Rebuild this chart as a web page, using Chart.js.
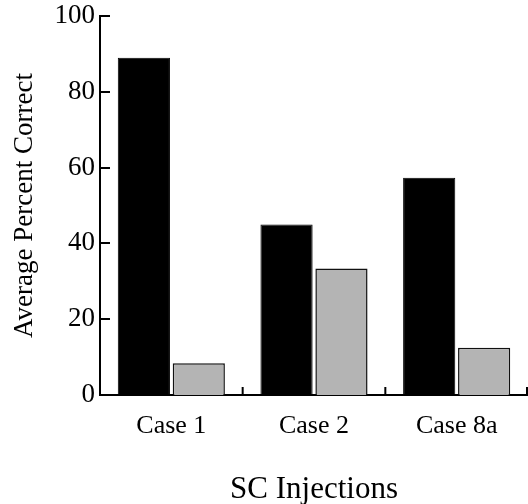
<!DOCTYPE html>
<html>
<head>
<meta charset="utf-8">
<script src="https://cdn.jsdelivr.net/npm/chart.js@4"></script>
<style>
  html, body { margin: 0; padding: 0; background: #fff; overflow: hidden; }
  #wrap { width: 528px; height: 504px; }
</style>
</head>
<body>
<div id="wrap"><canvas id="scChart"></canvas></div>
<script>
// SC injections - average percent correct
const categories = ['Case 1', 'Case 2', 'Case 8a'];
const seriesA = [89, 45, 57.3];
const seriesB = [8.4, 33.4, 12.5];
const yTicks = [0, 20, 40, 60, 80, 100];

const serif = "'Liberation Serif', 'Times New Roman', serif";

// short inward tick marks, as in the printed figure
const inwardTicks = {
    id: 'inwardTicks',
    afterDraw(chart) {
        const c = chart.ctx;
        const x = chart.scales.x;
        const y = chart.scales.y;
        c.save();
        c.strokeStyle = '#000';
        c.lineWidth = 2;
        c.beginPath();
        yTicks.forEach(v => {
            const py = Math.round(y.getPixelForValue(v));
            c.moveTo(x.left, py);
            c.lineTo(x.left + 10, py);
        });
        for (let i = 0; i < categories.length; i++) {
            const px = i < categories.length - 1
                ? (x.getPixelForValue(i) + x.getPixelForValue(i + 1)) / 2
                : x.right - 1;
            c.moveTo(px, y.bottom);
            c.lineTo(px, y.bottom - 8);
        }
        c.stroke();
        c.restore();
    }
};

const ctx = document.getElementById('scChart').getContext('2d');
const scChart = new Chart(ctx, {
    type: 'bar',
    data: {
        labels: categories,
        datasets: [{
            data: seriesA,
            backgroundColor: '#000000',
            borderColor: '#000000',
            borderWidth: 1,
            categoryPercentage: 0.77,
            barPercentage: 0.95
        }, {
            data: seriesB,
            backgroundColor: '#b4b4b4',
            borderColor: '#111111',
            borderWidth: 1.5,
            categoryPercentage: 0.77,
            barPercentage: 0.95
        }]
    },
    options: {
        responsive: true,
        maintainAspectRatio: false,
        animation: false,
        layout: { padding: { top: 16, right: 0, left: 0, bottom: 0 } },
        plugins: {
            legend: { display: false },
            tooltip: { enabled: false }
        },
        scales: {
            x: {
                grid: { display: false, drawTicks: false },
                border: { color: '#000', width: 2 },
                ticks: { color: '#000', font: { family: serif, size: 26 }, padding: 16, maxRotation: 0 },
                title: {
                    display: true,
                    text: 'SC Injections',
                    color: '#000',
                    font: { family: serif, size: 31 },
                    padding: { top: 0, bottom: -4 }
                },
                afterFit(scale) { scale.height = 109; }
            },
            y: {
                min: 0,
                max: 100,
                afterBuildTicks(scale) { scale.ticks = yTicks.map(v => ({ value: v })); },
                grid: { display: false, drawTicks: false },
                border: { color: '#000', width: 2 },
                ticks: { color: '#000', font: { family: serif, size: 27, lineHeight: 0.8 }, padding: 5 },
                title: {
                    display: true,
                    text: 'Average Percent Correct',
                    color: '#000',
                    font: { family: serif, size: 27 },
                    padding: { top: 9, bottom: 0 }
                },
                afterFit(scale) { scale.width = 100; }
            }
        }
    },
    plugins: [inwardTicks]
});
</script>
</body>
</html>
